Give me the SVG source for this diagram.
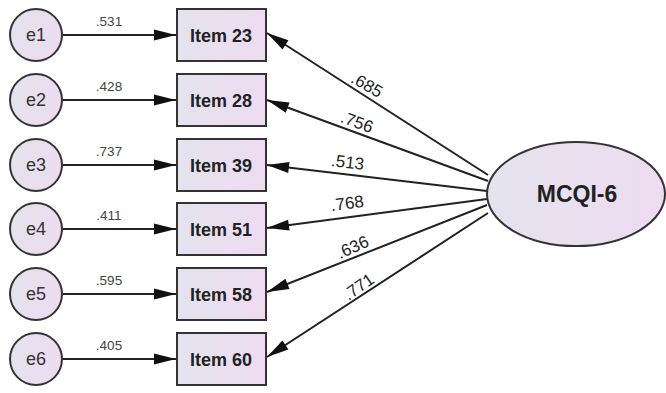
<svg xmlns="http://www.w3.org/2000/svg" width="666" height="393" viewBox="0 0 666 393">
<style>
.box{stroke:#333;stroke-width:2;fill:url(#gb)}
.err{stroke:#333;stroke-width:2;fill:url(#gc)}
.lat{stroke:#333;stroke-width:2;fill:url(#gb)}
.it{font-family:"Liberation Sans",Arial,sans-serif;font-weight:bold;font-size:18px;fill:#222;text-anchor:middle}
.el{font-family:"Liberation Sans",Arial,sans-serif;font-size:18px;fill:#333;text-anchor:middle}
.lt{font-family:"Liberation Sans",Arial,sans-serif;font-weight:bold;font-size:23px;fill:#222;text-anchor:middle}
.w{font-family:"Liberation Sans",Arial,sans-serif;font-size:13.5px;fill:#444;text-anchor:middle}
.l{font-family:"Liberation Sans",Arial,sans-serif;font-size:17px;fill:#222;text-anchor:middle}
.c line{stroke:#222;stroke-width:2;marker-end:url(#ah)}
</style>
<defs>
<linearGradient id="gb" x1="0" y1="0" x2="1" y2="0">
<stop offset="0" stop-color="#e3e3ee"/><stop offset="1" stop-color="#efdbf1"/>
</linearGradient>
<linearGradient id="gc" x1="0" y1="0" x2="1" y2="0">
<stop offset="0" stop-color="#e4e2ee"/><stop offset="1" stop-color="#ecdcf0"/>
</linearGradient>
<marker id="ah" markerUnits="userSpaceOnUse" markerWidth="24" markerHeight="14" viewBox="-23 -7 24 14" refX="0" refY="0" orient="auto">
<path d="M0,0 L-22,-5.5 L-22,5.5 Z" fill="#111"/>
</marker>
</defs>
<g class="c" id="connectors">
<line x1="63" y1="35" x2="176" y2="35"/>
<line x1="63" y1="100" x2="176" y2="100"/>
<line x1="63" y1="165" x2="176" y2="165"/>
<line x1="63" y1="229" x2="176" y2="229"/>
<line x1="63" y1="294" x2="176" y2="294"/>
<line x1="63" y1="359" x2="176" y2="359"/>
<line x1="488" y1="175" x2="267" y2="33"/>
<line x1="488" y1="181" x2="267" y2="100"/>
<line x1="487" y1="191" x2="267" y2="165"/>
<line x1="487" y1="199" x2="267" y2="228"/>
<line x1="487" y1="205" x2="267" y2="292"/>
<line x1="488" y1="213" x2="267" y2="357"/>
<text class="w" x="109" y="26">.531</text>
<text class="w" x="109" y="91">.428</text>
<text class="w" x="109" y="156">.737</text>
<text class="w" x="109" y="220">.411</text>
<text class="w" x="109" y="285">.595</text>
<text class="w" x="109" y="350">.405</text>
<text class="l" transform="translate(364,90) rotate(30)">.685</text>
<text class="l" transform="translate(355,127.5) rotate(20)">.756</text>
<text class="l" transform="translate(347,168) rotate(6.7)">.513</text>
<text class="l" transform="translate(348,209) rotate(-7.4)">.768</text>
<text class="l" transform="translate(355,252.5) rotate(-24)">.636</text>
<text class="l" transform="translate(362,291.5) rotate(-35)">.771</text>
</g>
<g id="e1"><circle class="err" cx="36" cy="35" r="26"/><text class="el" x="36" y="41">e1</text></g>
<g id="e2"><circle class="err" cx="36" cy="100" r="26"/><text class="el" x="36" y="106">e2</text></g>
<g id="e3"><circle class="err" cx="36" cy="165" r="26"/><text class="el" x="36" y="171">e3</text></g>
<g id="e4"><circle class="err" cx="36" cy="229" r="26"/><text class="el" x="36" y="235">e4</text></g>
<g id="e5"><circle class="err" cx="36" cy="294" r="26"/><text class="el" x="36" y="300">e5</text></g>
<g id="e6"><circle class="err" cx="36" cy="359" r="26"/><text class="el" x="36" y="365">e6</text></g>
<g id="item23"><rect class="box" x="177" y="9" width="89" height="52"/><text class="it" x="221" y="41.5">Item 23</text></g>
<g id="item28"><rect class="box" x="177" y="74" width="89" height="52"/><text class="it" x="221" y="106.5">Item 28</text></g>
<g id="item39"><rect class="box" x="177" y="139" width="89" height="52"/><text class="it" x="221" y="171.5">Item 39</text></g>
<g id="item51"><rect class="box" x="177" y="203" width="89" height="52"/><text class="it" x="221" y="235.5">Item 51</text></g>
<g id="item58"><rect class="box" x="177" y="268" width="89" height="52"/><text class="it" x="221" y="300.5">Item 58</text></g>
<g id="item60"><rect class="box" x="177" y="333" width="89" height="52"/><text class="it" x="221" y="365.5">Item 60</text></g>
<g id="mcqi6"><ellipse class="lat" cx="576" cy="194" rx="89" ry="52"/><text class="lt" x="577" y="202">MCQI-6</text></g>
</svg>
